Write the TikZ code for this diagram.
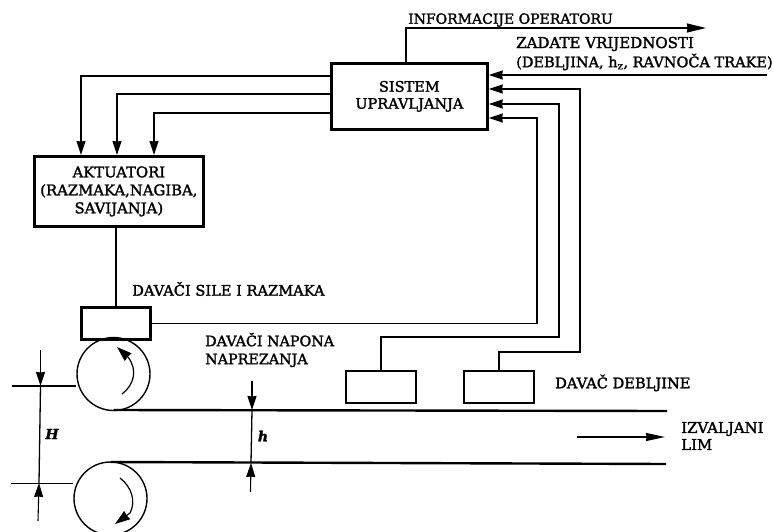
\documentclass[tikz,border=0pt]{standalone}
\usepackage{fontspec}
\setmainfont[FakeBold=1.8]{DejaVu Serif}
\usetikzlibrary{arrows.meta,calc}
\tikzset{
  box/.style={draw,line width=2.7pt,inner sep=0pt,anchor=north west,align=center},
  lbl/.style={inner sep=0pt,align=center,font=\fontsize{14.5}{18}\selectfont},
  wire/.style={line width=1.3pt},
  strip/.style={line width=2.4pt},
  thin wire/.style={line width=1.1pt},
  arr/.style={wire,-{Stealth[length=14pt,width=9pt,inset=.5pt]}},
  darr/.style={line width=1.1pt,-{Stealth[length=14pt,width=9pt,inset=.5pt]}},
  roll/.style={draw,circle,line width=1.4pt,inner sep=0pt,minimum size=73pt},
  rotline/.style={line width=1.2pt},
  rotarr/.style={line width=1.2pt,-{Stealth[length=15pt,width=10pt,inset=.5pt]}},
}
\begin{document}
\begin{tikzpicture}[x=1pt,y=-1pt]
\useasboundingbox (0,0) rectangle (773,532);
% boxes
\node[box,minimum width=156pt,minimum height=66pt,lbl,font=\fontsize{14.5}{17}\selectfont] (sistem) at (330,62) {SISTEM\\UPRAVLJANJA};
\node[box,minimum width=169pt,minimum height=70pt,lbl,font=\fontsize{14.8}{18}\selectfont] (akt) at (33,155) {AKTUATORI\\(RAZMAKA,NAGIBA,\\SAVIJANJA)};
\node[box,minimum width=69pt,minimum height=32pt] (sila) at (80,306) {};
\node[box,line width=2.1pt,minimum width=70pt,minimum height=32pt] (nap) at (345,370) {};
\node[box,line width=2.1pt,minimum width=70pt,minimum height=32pt] (debl) at (463,370) {};
\node[roll] (r1) at (113.5,374) {};
\node[roll] (r2) at (110.5,498.5) {};
% free ends
\coordinate (infoEnd) at (706,28);
\coordinate (zadEnd) at (767,75);
\coordinate (sTop) at (406,62);
\coordinate (aIn1) at (81,155);
\coordinate (aIn2) at (117,155);
\coordinate (aIn3) at (154,155);
\coordinate (strip1a) at (113.5,410);
\coordinate (strip1b) at (667,411);
\coordinate (strip2a) at (110.5,462);
\coordinate (strip2b) at (666,464);
% control links
\draw[wire,-{Stealth[length=19pt,width=9pt,inset=.5pt]}] (sTop) |- (infoEnd);
\draw[arr] (zadEnd) -- (zadEnd -| sistem.east);
\draw[arr] (sila.east) -| (537,118) -- (sistem.east |- 0,118);
\draw[arr] (nap.north) |- (559,337) |- (sistem.east |- 0,104);
\draw[arr] (debl.north) |- (580,352) |- (sistem.east |- 0,89);
\draw[arr] (sistem.west |- 0,76) -| (aIn1);
\draw[arr] (sistem.west |- 0,94) -| (aIn2);
\draw[arr] (sistem.west |- 0,113) -| (aIn3);
\draw[wire] (akt.south -| sila.north) -- (sila.north);
% strip
\draw[strip] (strip1a) -- (strip1b);
\draw[strip] (strip2a) -- (strip2b);
% roll rotation
\coordinate (t1a) at (122,394);
\coordinate (t1m) at (128,357);
\coordinate (t1b) at (117,347);
\coordinate (t2a) at (120,478);
\coordinate (t2m) at (130,513);
\coordinate (t2b) at (115,524);
\draw[rotline] (t1a) .. controls (134,385) and (138,370) .. (t1m);
\draw[rotarr] (t1m) -- (t1b);
\draw[rotline] (t2a) .. controls (132,487) and (136,502) .. (t2m);
\draw[rotarr] (t2m) -- (t2b);
% H dimension
\coordinate (Ha) at (40.5,386);
\coordinate (Hb) at (39,483);
\coordinate (Hl1) at (12,386);
\coordinate (Hl2) at (11,483.5);
\draw[thin wire] (Hl1) -- (Hl1 -| r1.west);
\draw[thin wire] (Hl2) -- (Hl2 -| r2.west);
\draw[darr] (40.5,350) -- (Ha);
\draw[darr] (38,521) -- (Hb);
\draw[wire] (Ha) -- (Hb);
\node[lbl,font=\fontsize{14}{15}\selectfont\bfseries\itshape] (H) at (52,434) {H};
% h dimension
\coordinate (ha) at (252,410);
\coordinate (hb) at (251,463);
\draw[darr] (252,381) -- (ha);
\draw[darr] (250.5,492) -- (hb);
\draw[wire] (ha) -- (hb);
\node[lbl,font=\fontsize{14}{15}\selectfont\bfseries\itshape] (hl) at (263,436) {h};
% travel direction
\coordinate (lima) at (577,437);
\coordinate (limb) at (665,437);
\draw[wire,-{Stealth[length=19pt,width=8pt,inset=.5pt]}] (lima) -- (limb);
% labels
\node[lbl,anchor=west,font=\fontsize{14}{18}\selectfont] (t1) at (408,20) {INFORMACIJE OPERATORU};
\node[lbl,anchor=west,font=\fontsize{15}{18}\selectfont] (t2) at (516,44) {ZADATE VRIJEDNOSTI};
\node[lbl,anchor=west] (t3) at (516,62) {(DEBLJINA, h\textsubscript{z}, RAVNOČA TRAKE)};
\node[lbl,anchor=west,font=\fontsize{14.6}{18}\selectfont] (t4) at (132,289) {DAVAČI SILE I RAZMAKA};
\node[lbl,anchor=west,align=left,font=\fontsize{14.3}{18}\selectfont] (t5) at (205,350) {DAVAČI NAPONA\\NAPREZANJA};
\node[lbl,anchor=west,font=\fontsize{14.6}{18}\selectfont] (t6) at (555,383) {DAVAČ DEBLJINE};
\node[lbl,anchor=west,align=left,font=\fontsize{14.9}{17}\selectfont] (t7) at (681,436) {IZVALJANI\\LIM};
\end{tikzpicture}
\end{document}
